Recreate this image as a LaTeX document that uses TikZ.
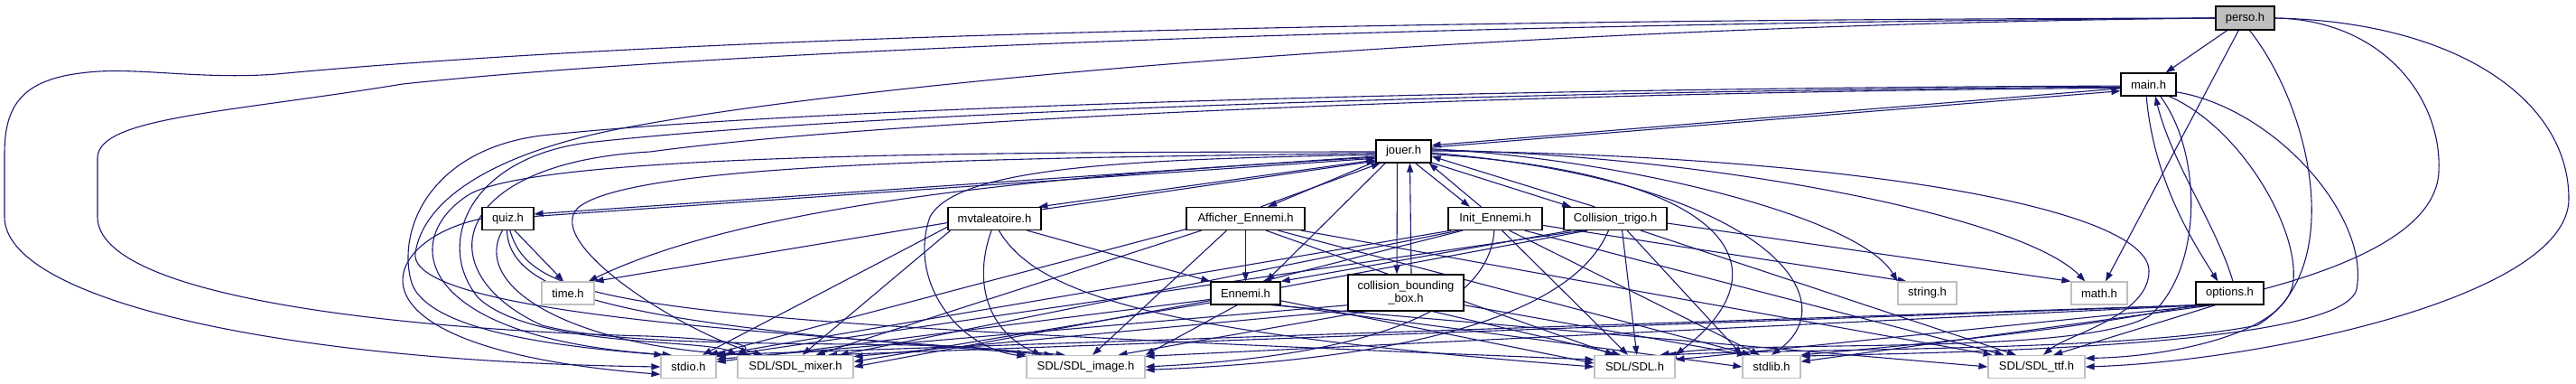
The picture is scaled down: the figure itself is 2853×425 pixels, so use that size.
\documentclass[tikz,border=0pt]{standalone}
\usepackage{fontspec}
\setmainfont{Liberation Sans}
\usetikzlibrary{arrows.meta}
\definecolor{edgeblue}{HTML}{191970}
\definecolor{sysgray}{HTML}{BFBFBF}
\pgfdeclarelayer{back}
\pgfsetlayers{back,main}
\tikzset{hdr/.style={draw=black,fill=white,line width=1.2pt,minimum height=25pt,inner sep=0pt,font=\fontsize{13}{14}\selectfont},
sys/.style={hdr,draw=sysgray},
inc/.style={draw=edgeblue,line width=1.1pt,-{Triangle[length=10pt,width=7pt]}}}
\begin{document}
\begin{tikzpicture}[x=1pt,y=-1pt]
\useasboundingbox(0,0)rectangle(2853,425);
\node[hdr,fill=sysgray,minimum width=65pt,minimum height=26pt](perso)at(2486.5,20){perso.h};
\node[hdr,minimum width=61pt](main)at(2379.5,93.5){main.h};
\node[hdr,minimum width=61pt](jouer)at(1554.5,167.5){jouer.h};
\node[hdr,minimum width=57pt](quiz)at(562.5,242){quiz.h};
\node[hdr,minimum width=103pt](mvt)at(1101.5,242){mvtaleatoire.h};
\node[hdr,minimum width=131pt](affich)at(1379.5,242){Afficher\_Ennemi.h};
\node[hdr,minimum width=104pt](init)at(1656,242){Init\_Ennemi.h};
\node[hdr,minimum width=114pt](ctrigo)at(1789,242){Collision\_trigo.h};
\node[sys,minimum width=58pt](time)at(629,324.5){time.h};
\node[hdr,minimum width=77pt](ennemi)at(1379.5,324.5){Ennemi.h};
\node[hdr,minimum width=128pt,minimum height=40pt,align=center](cbb)at(1557,324){collision\_bounding\\\_box.h};
\node[sys,minimum width=65pt](string)at(2134.5,324.5){string.h};
\node[sys,minimum width=62pt](math)at(2325,324.5){math.h};
\node[hdr,minimum width=75pt](options)at(2469.5,324.5){options.h};
\node[sys,minimum width=61pt](stdio)at(762.5,406){stdio.h};
\node[sys,minimum width=128pt](mixer)at(881,406){SDL/SDL\_mixer.h};
\node[sys,minimum width=131pt](image)at(1202.5,406){SDL/SDL\_image.h};
\node[sys,minimum width=89pt](sdl)at(1810.5,406){SDL/SDL.h};
\node[sys,minimum width=64pt](stdlib)at(1962,406){stdlib.h};
\node[sys,minimum width=107pt](ttf)at(2255.5,406){SDL/SDL\_ttf.h};
\begin{pgfonlayer}{back}
\draw[inc](perso)--(main);
\draw[inc](perso)--(math);
\draw[inc](perso.west)..controls(1400,22)and(700,45)..(306,82)..controls(230,88)and(160,76)..(110,79)..controls(30,84)and(5,110)..(5,170)--(5,240)..controls(5,330)and(300,400)..(stdio.west);
\draw[inc](perso.west)..controls(1600,26)and(800,55)..(446,93)..controls(250,125)and(108,130)..(108,175)--(108,240)..controls(108,330)and(450,365)..(717,372)..controls(790,375)and(835,380)..(mixer.north west);
\draw[inc](perso.west)..controls(1700,28)and(1000,85)..(700,140)..controls(560,165)and(470,215)..(460,280)..controls(450,350)and(900,370)..(image.150);
\draw[inc](perso.-70)..controls(2560,120)and(2600,300)..(2500,360)..controls(2350,390)and(2000,385)..(sdl.20);
\draw[inc](perso.east)..controls(2640,22)and(2705,110)..(2701,190)..controls(2695,330)and(2250,370)..(stdlib.north east);
\draw[inc](perso.east)..controls(2720,24)and(2845,110)..(2845,220)..controls(2845,330)and(2500,400)..(ttf.east);
\draw[inc](main.188)--(jouer.12);
\draw[inc](jouer.8)--(main.193);
\draw[inc](main.-100)..controls(2385,200)and(2430,270)..(options.135);
\draw[inc](options.75)..controls(2455,250)and(2405,180)..(main.-60);
\draw[inc](main.183)..controls(1700,97)and(900,118)..(600,150)..controls(480,165)and(440,250)..(455,310)..controls(470,370)and(640,385)..(stdio.155);
\draw[inc](main.185)..controls(1700,100)and(950,124)..(650,158)..controls(520,175)and(480,270)..(530,330)..controls(590,385)and(780,375)..(mixer.north west);
\draw[inc](main.187)..controls(1700,102)and(1000,130)..(720,168)..controls(500,180)and(470,300)..(600,360)..controls(720,392)and(1050,372)..(image.north west);
\draw[inc](main.-30)..controls(2480,140)and(2545,250)..(2540,310)..controls(2535,370)and(2400,395)..(ttf.10);
\draw[inc](main.-15)..controls(2520,120)and(2625,240)..(2610,320)..controls(2595,385)and(2150,390)..(stdlib.20);
\draw[inc](main.-45)..controls(2440,170)and(2440,300)..(2380,350)..controls(2300,395)and(1950,375)..(sdl.25);
\draw[inc](jouer.190)--(quiz.10);
\draw[inc](quiz.5)--(jouer.194);
\draw[inc](jouer.197)--(mvt.15);
\draw[inc](mvt.11)--(jouer.199);
\draw[inc](jouer.200)--(affich.28);
\draw[inc](affich.38)--(jouer.207);
\draw[inc](jouer.-45)--(init.155);
\draw[inc](init.140)--(jouer.-25);
\draw[inc](jouer.-22)--(ctrigo.165);
\draw[inc](ctrigo.150)--(jouer.-10);
\draw[inc]([xshift=-7pt]jouer.south)--([xshift=-10pt]cbb.north);
\draw[inc]([xshift=6pt]cbb.north)--([xshift=7pt]jouer.south);
\draw[inc](jouer.-147)--(ennemi.30);
\draw[inc](jouer.192)..controls(1250,190)and(850,215)..(time.30);
\draw[inc](jouer.181)..controls(1100,168)and(600,170)..(520,215)..controls(440,265)and(460,375)..(stdio.145);
\draw[inc](jouer.184)..controls(1100,175)and(700,180)..(640,230)..controls(600,270)and(760,370)..(mixer.160);
\draw[inc](jouer.187)..controls(1250,176)and(1060,185)..(1030,240)..controls(1005,310)and(1060,385)..(image.170);
\draw[inc](jouer.5)..controls(1800,176)and(2060,240)..(string.north west);
\draw[inc](jouer.3)..controls(1900,172)and(2240,240)..(math.140);
\draw[inc](jouer.1)..controls(2050,172)and(2380,230)..(2380,300)..controls(2380,350)and(2290,370)..(ttf.60);
\draw[inc](jouer.-3)..controls(1950,200)and(2050,330)..(stdlib.north);
\draw[inc](jouer.-6)..controls(1900,190)and(1990,290)..(sdl.north east);
\draw[inc](quiz.-60)--(time.110);
\draw[inc](quiz.west)..controls(420,265)and(360,385)..(stdio.195);
\draw[inc](quiz.-115)..controls(520,320)and(640,385)..(mixer.165);
\draw[inc](quiz.-95)..controls(565,330)and(700,360)..(image.160);
\draw[inc](quiz.-80)..controls(590,340)and(700,355)..(sdl.170);
\draw[inc](mvt.185)--(time.north east);
\draw[inc](mvt.-20)--(ennemi.north west);
\draw[inc](mvt.190)--(stdio.40);
\draw[inc](mvt.195)--(mixer.60);
\draw[inc](mvt.-105)..controls(1075,320)and(1100,370)..(image.165);
\draw[inc](mvt.-70)..controls(1150,330)and(1300,370)..(sdl.180);
\draw[inc](affich)--(ennemi);
\foreach \sa/\tg in {190/stdio.30,195/mixer.30,-148/image.60,-30/sdl.150,-20/stdlib.150,-12/ttf.165}\draw[inc](affich.\sa)--(\tg);
\foreach \sa/\tg in {200/ennemi.35,-8/string.150,195/stdio.north east,198/mixer.15,-60/sdl.120,-40/stdlib.135,-22/ttf.160}\draw[inc](init.\sa)--(\tg);
\draw[inc](init.-95)..controls(1650,330)and(1550,392)..(image.east);
\foreach \sa/\tg in {195/ennemi.north east,-5/math.north west,200/stdio.20,203/mixer.east,-60/sdl.80,-45/stdlib.north west,-25/ttf.150}\draw[inc](ctrigo.\sa)--(\tg);
\draw[inc](ctrigo.-120)..controls(1750,330)and(1620,395)..(image.-3);
\foreach \sa/\tg in {190/stdio.10,195/mixer.5,-125/image.north east,-12/sdl.175,-20/stdlib.west,-25/ttf.west}\draw[inc](ennemi.\sa)--(\tg);
\foreach \sa/\tg in {192/stdio.15,197/mixer.10,205/image.20,-35/sdl.140,-12/stdlib.155}\draw[inc](cbb.\sa)--(\tg);
\foreach \sa/\tg in {200/stdio.25,203/mixer.20,206/image.10,210/sdl.10,215/stdlib.10,-140/ttf.35}\draw[inc](options.\sa)--(\tg);
\end{pgfonlayer}
\end{tikzpicture}
\end{document}
